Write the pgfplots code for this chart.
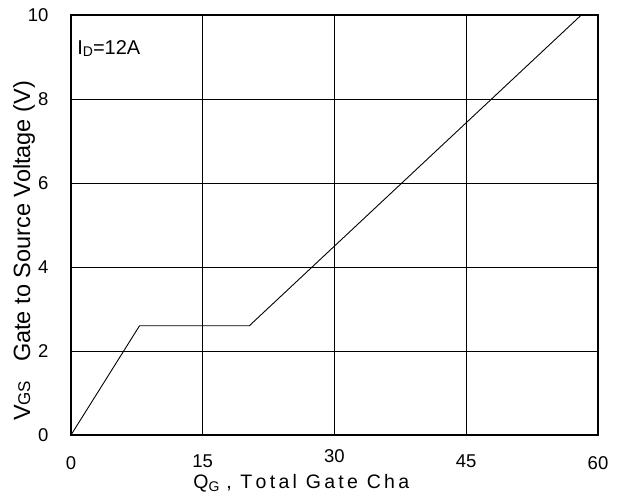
\documentclass[border=0pt]{standalone}
\usepackage{pgfplots}
\pgfplotsset{compat=1.18}
\usepackage{fontspec}
\setmainfont{Liberation Sans}
\newcommand{\ls}{\hspace{0.17em}}
\begin{document}
\begin{tikzpicture}
\begin{axis}[
    scale only axis,
    width=527bp, height=420bp,
    xmin=0, xmax=60, ymin=0, ymax=10,
    xtick={0,15,30,45,60},
    xticklabels={0,{\raisebox{2bp}{15}},{\raisebox{7bp}{30}},{\raisebox{2bp}{45}},60},
    ytick={0,2,4,6,8,10},
    grid=major,
    major grid style={black, line width=0.8pt},
    axis line style={black, line width=1.5pt},
    major tick length=0pt,
    tick label style={font=\fontsize{18.5bp}{20bp}\selectfont},
    xticklabel style={anchor=base, yshift=-34bp},
    yticklabel style={xshift=-19bp},
    /pgf/number format/assume math mode=true,
    xlabel={\fontsize{19.5bp}{21bp}\selectfont Q\raisebox{-3bp}{\fontsize{14bp}{15bp}\selectfont G}\hspace{0.35em},\hspace{0.45em}T\ls o\ls t\ls a\ls l\hspace{0.45em}G\ls a\ls t\ls e\hspace{0.45em}C\ls h\ls a},
    xlabel style={at={(axis description cs:0.437,0)}, anchor=base, yshift=-53bp},
    ylabel={\fontsize{23.5bp}{25bp}\selectfont V{\fontsize{17bp}{19bp}\selectfont GS}\hspace{0.8em}Gate to Source Voltage (V)},
    ylabel style={at={(axis description cs:-0.089,0.438)}, anchor=center, rotate=0},
    clip=false,
]
\addplot[black, line width=0.9pt] coordinates {
    (0,0) (7.8,2.6) (20.3,2.6) (58.1,10)
};
\node[anchor=base west, inner sep=0pt, font=\fontsize{20bp}{22bp}\selectfont] at (axis cs:0.7,9.07) {I\raisebox{-2.5bp}{\fontsize{14bp}{15bp}\selectfont D}=12A};
\end{axis}
\pgfresetboundingbox
\path (current axis.south west) ++(-71bp,-62bp) coordinate (a);
\path (current axis.north east) ++(22bp,15bp) coordinate (b);
\path (a) rectangle (b);
\end{tikzpicture}
\end{document}
